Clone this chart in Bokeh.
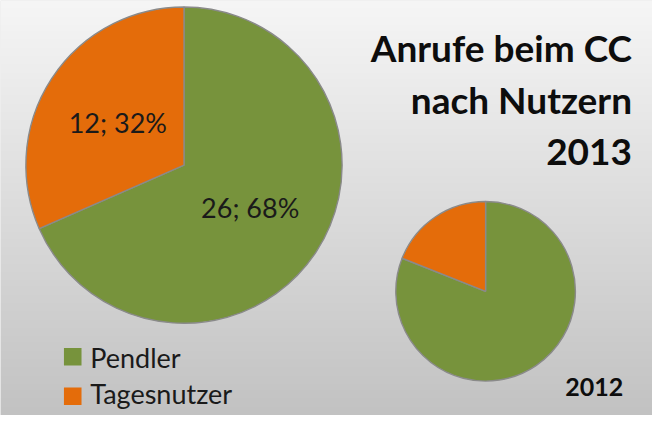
import numpy as np
from bokeh.plotting import figure
from bokeh.models import Range1d, ColumnDataSource
from bokeh.core.properties import value
from bokeh.embed import file_html
from bokeh.resources import INLINE

# ---- data ----
categories = ["Pendler", "Tagesnutzer"]
calls_2013 = [26, 12]
share_2012 = [81, 19]
colors = ["#77933C", "#E46C0A"]
title_lines = ["Anrufe beim CC", "nach Nutzern", "2013"]
year_small = "2012"

# ---- layout (reference pixel space 668x431, y up = 431 - screen y) ----
W, H = 668, 431
W_PLOT, H_PLOT = 652, 415
FONT = "Lato"

p = figure(width=W_PLOT, height=H_PLOT, output_backend="svg", toolbar_location=None,
           x_range=Range1d(0, W), y_range=Range1d(0, H), min_border=0)
p.axis.visible = False
p.grid.visible = False
p.outline_line_color = None
p.background_fill_color = "#e0e0e0"
p.border_fill_color = "#e0e0e0"

# background gradient
rows = 200
top = np.array([246, 246, 246], dtype=float)
bot = np.array([194, 194, 194], dtype=float)
img = np.zeros((rows, 1), dtype=np.uint32)
view = img.view(dtype=np.uint8).reshape((rows, 1, 4))
for i in range(rows):
    t = 1 - (i + 0.5) / rows
    c = top + (bot - top) * t
    view[i, 0, 0:3] = c.astype(np.uint8)
    view[i, 0, 3] = 255
p.image_rgba(image=[img], x=0, y=0, dw=W, dh=H)


def pie(cx, cy, r, vals):
    vals = np.array(vals, dtype=float)
    frac = vals / vals.sum()
    cum = np.concatenate([[0], np.cumsum(frac)])
    start = np.pi / 2 - 2 * np.pi * cum[:-1]
    end = np.pi / 2 - 2 * np.pi * cum[1:]
    src = ColumnDataSource(dict(start=start, end=end, color=colors, cat=categories))
    p.wedge(x=cx, y=cy, radius=r, start_angle="start", end_angle="end", direction="clock",
            fill_color="color", line_color="#8a8a8a", line_width=1.4, source=src)
    return frac, (start + end) / 2


# big pie 2013
cx, cy, r = 188, H - 171, 162
frac, mid = pie(cx, cy, r, calls_2013)
labels = [f"{v}; {round(100 * f)}%" for v, f in zip(calls_2013, frac)]
lx = cx + 0.5 * r * np.cos(mid)
ly = cy + 0.5 * r * np.sin(mid)
p.text(x=lx, y=ly, text=labels, text_align="center", text_baseline="middle",
       text_font=value(FONT), text_font_size="27px", text_color="#1a1a1a")

# small pie 2012
pie(497, H - 302, 92, share_2012)

# title (vertical centres of the lines)
ty = [H - 49, H - 103, H - 157]
p.text(x=[647] * 3, y=ty, text=title_lines, text_align="right", text_baseline="middle",
       text_font=value(FONT), text_font_style="bold", text_font_size="37px", text_color="#0d0d0d")

# year label for small pie
p.text(x=[638], y=[H - 401], text=[year_small], text_align="right", text_baseline="middle",
       text_font=value(FONT), text_font_style="bold", text_font_size="25px", text_color="#0d0d0d")

# legend
leg_y = [H - 370, H - 411]
p.rect(x=[74, 74], y=leg_y, width=18, height=18, fill_color=colors, line_color=None)
p.text(x=[92, 92], y=[H - 371, H - 408], text=categories, text_align="left", text_baseline="middle",
       text_font=value(FONT), text_font_size="27px", text_color="#1a1a1a")

open("out.html", "w").write(file_html(p, INLINE))
